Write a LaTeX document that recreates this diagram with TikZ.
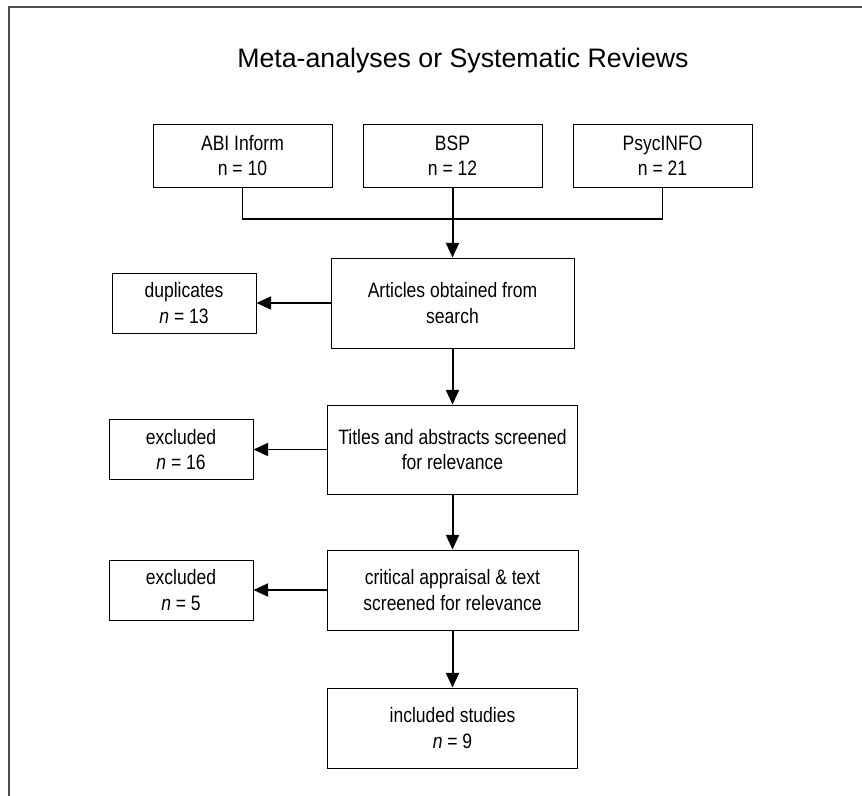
\documentclass[tikz,border=0pt]{standalone}
\usepackage{fontspec}
\setmainfont{Liberation Sans}
\newfontfamily\narrowfont{Liberation Sans}[FakeStretch=0.84]
\usetikzlibrary{arrows.meta}
\definecolor{frm}{gray}{.3}
\tikzset{>={Triangle[length=4.4mm,width=3.9mm]}}
\tikzset{
    box/.style={draw, line width=.8pt, inner sep=0pt, align=center,
        font=\narrowfont\fontsize{17.8}{21.5}\selectfont},
    srcbox/.style={box, minimum width=5.37cm, minimum height=1.89cm},
    sidebox/.style={box, minimum width=4.32cm, minimum height=1.8cm},
    flow/.style={->, line width=1.7pt},
    link/.style={line width=1.5pt}
}

\begin{document}
\begin{tikzpicture}[x=.03cm, y=-.03cm]
    \useasboundingbox(0, 0) rectangle (862, 796);
    \draw[frm, line width=1.6pt](9.3, 796)--(9.3, 7)--(862, 7);
    \node[font=\fontsize{22.8}{27}\selectfont](ttl) at(463, 61){Meta-analyses or Systematic Reviews};
    % sources
    \node[srcbox](abi) at(242.5, 155.5){ABI Inform\\n = 10};
    \node[srcbox](bsp) at(452.5, 155.5){BSP\\n = 12};
    \node[srcbox](psy) at(662.5, 155.5){PsycINFO\\n = 21};
    \coordinate(mrg) at(452.5, 219);
    % main column
    \node[box, minimum width=7.29cm, minimum height=2.7cm](art) at(452.5, 303){Articles obtained from\\search};
    \node[box, minimum width=7.5cm, minimum height=2.67cm](tit) at(452.5, 449.5){Titles and abstracts screened\\for relevance};
    \node[box, minimum width=7.53cm, minimum height=2.4cm](cri) at(452.5, 590){critical appraisal \& text\\screened for relevance};
    \node[box, minimum width=7.5cm, minimum height=2.4cm](inc) at(452.5, 728){included studies\\\textit{n} = 9};
    % side boxes
    \node[sidebox](dup) at(184, 303){duplicates\\\textit{n} = 13};
    \node[sidebox](ex1) at(181, 449.5){excluded\\\textit{n} = 16};
    \node[sidebox](ex2) at(181, 590){excluded\\\textit{n} = 5};
    % connectors
    \draw[link](abi.south)|-(mrg)-|(psy.south);
    \draw[flow](bsp)--(art);
    \draw[flow](art)--(tit);
    \draw[flow](tit)--(cri);
    \draw[flow](cri)--(inc);
    \draw[flow](art)--(dup);
    \draw[flow](tit)--(ex1);
    \draw[flow](cri)--(ex2);
\end{tikzpicture}
\end{document}
